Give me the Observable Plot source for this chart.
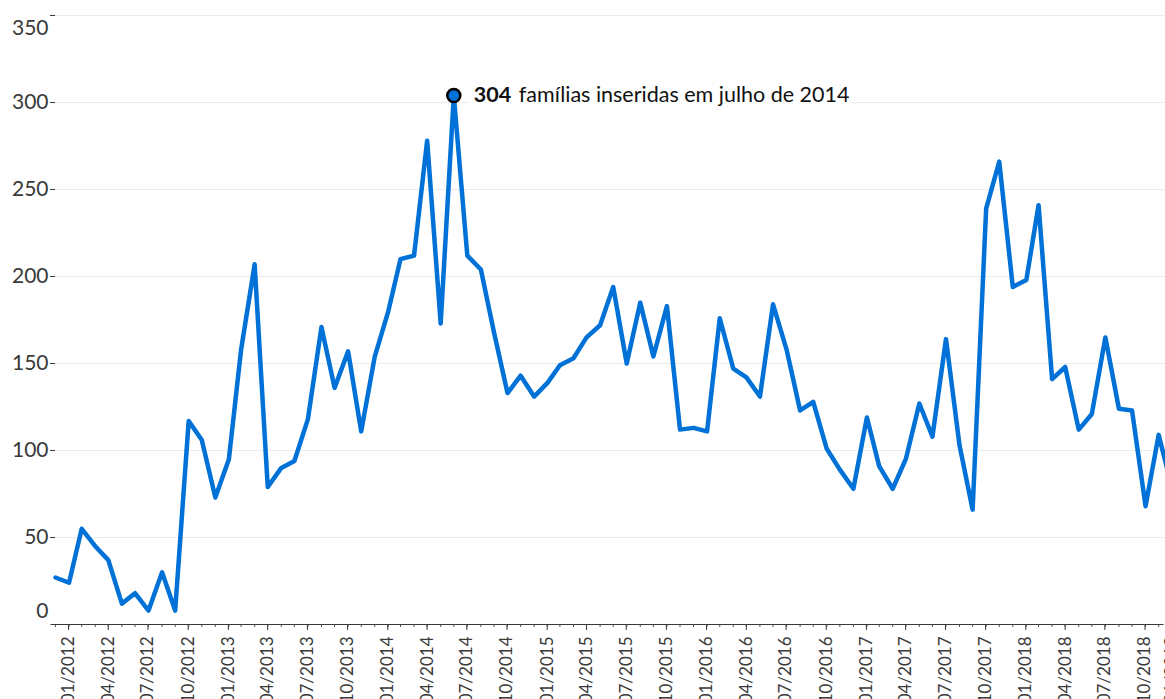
<!DOCTYPE html>
<html>
<head>
<meta charset="utf-8">
<script src="https://cdn.jsdelivr.net/npm/d3@7"></script>
<script src="https://cdn.jsdelivr.net/npm/@observablehq/plot@0.6"></script>
<style>
  html, body { margin: 0; padding: 0; background: #fff; overflow: hidden; }
  #chart { width: 1165px; height: 699px; overflow: hidden; }
</style>
</head>
<body>
<div id="chart"></div>
<script>
// ---- data ----
const months = [
  "2012-01","2012-02","2012-03","2012-04","2012-05","2012-06","2012-07","2012-08","2012-09","2012-10","2012-11","2012-12",
  "2013-01","2013-02","2013-03","2013-04","2013-05","2013-06","2013-07","2013-08","2013-09","2013-10","2013-11","2013-12",
  "2014-01","2014-02","2014-03","2014-04","2014-05","2014-06","2014-07","2014-08","2014-09","2014-10","2014-11","2014-12",
  "2015-01","2015-02","2015-03","2015-04","2015-05","2015-06","2015-07","2015-08","2015-09","2015-10","2015-11","2015-12",
  "2016-01","2016-02","2016-03","2016-04","2016-05","2016-06","2016-07","2016-08","2016-09","2016-10","2016-11","2016-12",
  "2017-01","2017-02","2017-03","2017-04","2017-05","2017-06","2017-07","2017-08","2017-09","2017-10","2017-11","2017-12",
  "2018-01","2018-02","2018-03","2018-04","2018-05","2018-06","2018-07","2018-08","2018-09","2018-10","2018-11","2018-12",
  "2019-01"
];
const families = [
  27, 24, 55, 45, 37, 12, 18, 8, 30, 8, 117, 106,
  73, 95, 158, 207, 79, 90, 94, 118, 171, 136, 157, 111,
  154, 180, 210, 212, 278, 173, 304, 212, 204, 168, 133, 143,
  131, 139, 149, 153, 165, 172, 194, 150, 185, 154, 183, 112,
  113, 111, 176, 147, 142, 131, 184, 158, 123, 128, 101, 89,
  78, 119, 91, 78, 95, 127, 108, 164, 103, 66, 239, 266,
  194, 198, 241, 141, 148, 112, 121, 165, 124, 123, 68, 109,
  78
];
const xTickMonths = ["2012-01","2012-04","2012-07","2012-10","2013-01","2013-04","2013-07","2013-10",
  "2014-01","2014-04","2014-07","2014-10","2015-01","2015-04","2015-07","2015-10",
  "2016-01","2016-04","2016-07","2016-10","2017-01","2017-04","2017-07","2017-10",
  "2018-01","2018-04","2018-07","2018-10","2018-12"];
const xTickLabels = ["01/2012","04/2012","07/2012","10/2012","01/2013","04/2013","07/2013","10/2013",
  "01/2014","04/2014","07/2014","10/2014","01/2015","04/2015","07/2015","10/2015",
  "01/2016","04/2016","07/2016","10/2016","01/2017","04/2017","07/2017","10/2017",
  "01/2018","04/2018","07/2018","10/2018","01/2019"];
const yTicksMid = [50, 100, 150, 200, 250, 300];
const yTickTop = [350];
const yTickBottom = [0];
const xDomainMonths = ["2012-01", "2019-01"];
const annMonth = ["2014-07"];
const annBold = ["304"];
const annRest = ["famílias inseridas em julho de 2014"];

// ---- build ----
const parse = d3.utcParse("%Y-%m");
const data = months.map((m, i) => ({date: parse(m), value: families[i]}));
const tickDates = xTickMonths.map(parse);
const labelByTime = new Map(tickDates.map((d, i) => [+d, xTickLabels[i]]));
const ann = annMonth.map((m, i) => ({date: parse(m), value: data.find(d => +d.date === +parse(m)).value, bold: annBold[i], rest: annRest[i]}));

const BLUE = "#0071d6";
const INK = "#3a3a3a";

const chart = Plot.plot({
  width: 1165,
  height: 699,
  marginLeft: 55,
  marginRight: 0,
  marginTop: 15,
  marginBottom: 75,
  style: {fontFamily: "Lato, 'Open Sans', sans-serif", background: "#fff", overflow: "hidden"},
  x: {type: "utc", domain: xDomainMonths.map(parse), range: [55, 1171.7]},
  y: {domain: [0, 350]},
  marks: [
    Plot.gridY([...yTicksMid, ...yTickTop], {stroke: "#ececec", strokeOpacity: 1, strokeWidth: 1}),
    Plot.axisY(yTicksMid, {label: null, tickSize: 5, tickPadding: 2, fontSize: 21, color: INK, strokeWidth: 1}),
    Plot.axisY(yTickTop, {label: null, tickSize: 5, tickFormat: () => "", color: INK}),
    Plot.axisY(yTickTop, {label: null, tickSize: 0, tickPadding: 7, fontSize: 21, color: INK, dy: 13}),
    Plot.axisY(yTickBottom, {label: null, tickSize: 0, tickPadding: 7, fontSize: 21, color: INK, dy: -13}),
    Plot.axisX(data.map(d => d.date), {label: null, tickSize: 3, tickFormat: () => "", color: "#555"}),
    Plot.axisX(tickDates, {label: null, tickSize: 6, tickRotate: -90, tickPadding: 6, fontSize: 17, color: INK, dx: 13,
      tickFormat: d => labelByTime.get(+d)}),
    Plot.ruleY([0], {stroke: INK, strokeWidth: 1.2, dx: -1.5, insetLeft: -3}),
    Plot.line(data, {x: "date", y: "value", stroke: BLUE, strokeWidth: 4.5, strokeLinejoin: "round", strokeLinecap: "round"}),
    Plot.text(ann, {x: "date", y: "value", text: "bold", dx: 20, textAnchor: "start", fontSize: 21.5, fontWeight: "bold",
      fill: "#111", stroke: "#fff", strokeWidth: 12}),
    Plot.text(ann, {x: "date", y: "value", text: "rest", dx: 65, textAnchor: "start", fontSize: 21.5,
      fill: "#111", stroke: "#fff", strokeWidth: 10}),
    Plot.dot(ann, {x: "date", y: "value", r: 6.5, fill: BLUE, stroke: "#000", strokeWidth: 2.5})
  ]
});
document.getElementById("chart").appendChild(chart);
</script>
</body>
</html>
